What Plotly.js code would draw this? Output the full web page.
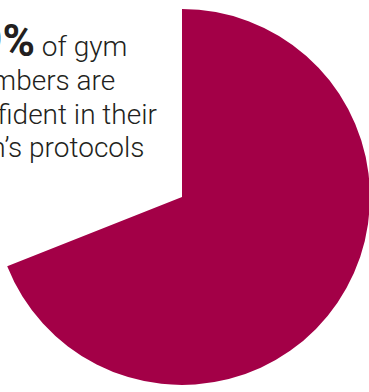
<!DOCTYPE html>
<html>
<head>
<meta charset="utf-8">
<script src="https://cdn.plot.ly/plotly-3.0.1.min.js"></script>
<style>
  html, body { margin: 0; padding: 0; width: 369px; height: 392px; overflow: hidden; background: #ffffff; }
  #chart { position: absolute; left: -6px; top: 0; }
</style>
</head>
<body>
<div id="chart"></div>
<script>
// Data
const categories = ["Confident", "Not confident"];
const shares = [69, 31];
const sliceColors = ["#a30047", "rgba(0,0,0,0)"];
const headlineValue = "69%";
const headlineLines = ["of gym", "members are", "confident in their", "gym\u2019s protocols"];

const trace = {
  type: "pie",
  labels: categories,
  values: shares,
  sort: false,
  direction: "clockwise",
  rotation: 0,
  textinfo: "none",
  hoverinfo: "none",
  showlegend: false,
  marker: { colors: sliceColors, line: { width: 0 } },
  domain: { x: [0, 1], y: [0, 1] }
};

const bodyStyle = "font-size:28px";
const annText = headlineLines.map(function (line, i) {
  const body = "<span style=\"" + bodyStyle + "\">" + (i === 0 ? " " : "") + line + "</span>";
  return i === 0
    ? "<span style=\"font-size:44px;font-weight:bold\">" + headlineValue + "</span>" + body
    : body;
}).join("<br>");

const layout = {
  width: 376,
  height: 392,
  margin: { l: 0, r: 0, t: 9, b: 7 },
  paper_bgcolor: "rgba(0,0,0,0)",
  plot_bgcolor: "rgba(0,0,0,0)",
  showlegend: false,
  annotations: [{
    xref: "paper", yref: "paper",
    x: -0.1144, y: 0.9866,
    xanchor: "left", yanchor: "top",
    align: "left",
    showarrow: false,
    borderpad: 0,
    text: annText,
    font: { family: "Roboto, 'Open Sans', sans-serif", size: 26, color: "#231f20", weight: 300 }
  }]
};

Plotly.newPlot("chart", [trace], layout, { staticPlot: true, displayModeBar: false });
</script>
</body>
</html>
